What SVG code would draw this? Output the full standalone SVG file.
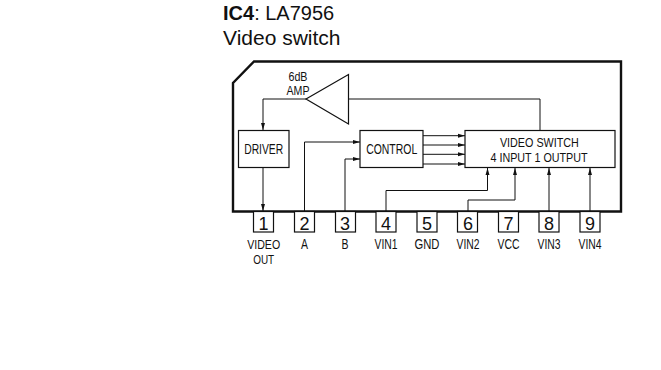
<svg xmlns="http://www.w3.org/2000/svg" width="661" height="370" viewBox="0 0 661 370">
<style>
text{font-family:"Liberation Sans",Arial,sans-serif;fill:#111}
.t{font-size:20px}
.p{font-size:18px;text-anchor:middle}
.l{font-size:14px;text-anchor:middle}
.m{font-size:12px;text-anchor:middle}
.b{fill:#fff;stroke:#111;stroke-width:1.2}
.c{fill:none;stroke:#111;stroke-width:1}
</style>
<defs><marker id="a" markerUnits="userSpaceOnUse" markerWidth="8" markerHeight="6" refX="7" refY="3" orient="auto"><path d="M0,1L7,3L0,5z" fill="#111"/></marker></defs>
<rect width="661" height="370" fill="#fff"/>
<text class="t" x="223" y="20"><tspan font-weight="bold">IC4</tspan>: LA7956<tspan x="223" y="45" font-size="21">Video switch</tspan></text>
<g id="chip"><path d="M254,61.5H621V211.5H233V83Z" fill="none" stroke="#111" stroke-width="2.4"/></g>
<g id="connectors">
<path class="c" d="M306,99H263V130" marker-end="url(#a)"/>
<path class="c" d="M348.5,99H540V130.5"/>
<path class="c" d="M263,167.5V211" marker-end="url(#a)"/>
<path class="c" d="M304.5,211V142H360" marker-end="url(#a)"/>
<path class="c" d="M345,211V159H360" marker-end="url(#a)"/>
<path class="c" d="M423,135.7H465" marker-end="url(#a)"/>
<path class="c" d="M423,145H465" marker-end="url(#a)"/>
<path class="c" d="M423,154.3H465" marker-end="url(#a)"/>
<path class="c" d="M423,164H465" marker-end="url(#a)"/>
<path class="c" d="M386,211V190.5H487.5V168" marker-end="url(#a)"/>
<path class="c" d="M468,211V200H515V168" marker-end="url(#a)"/>
<path class="c" d="M549,211V168" marker-end="url(#a)"/>
<path class="c" d="M590,211V168" marker-end="url(#a)"/>
</g>
<g id="amp"><path class="b" d="M306,99L348.5,74.5V124Z"/><text class="m" x="298" y="80.5" textLength="19" lengthAdjust="spacingAndGlyphs">6dB</text><text class="m" x="298" y="95" textLength="23" lengthAdjust="spacingAndGlyphs">AMP</text></g>
<g id="driver"><rect class="b" x="238.5" y="130.5" width="50.5" height="37"/><text class="l" x="263.7" y="154" textLength="39" lengthAdjust="spacingAndGlyphs">DRIVER</text></g>
<g id="control"><rect class="b" x="360" y="130.5" width="63" height="37"/><text class="l" x="391.7" y="154" textLength="51" lengthAdjust="spacingAndGlyphs">CONTROL</text></g>
<g id="switch"><rect class="b" x="465" y="130.5" width="150" height="37"/><text class="m" x="539.4" y="147.3" textLength="79" lengthAdjust="spacingAndGlyphs">VIDEO SWITCH</text><text class="m" x="539" y="161.7" textLength="97" lengthAdjust="spacingAndGlyphs">4 INPUT 1 OUTPUT</text></g>
<g id="pin1"><rect class="b" x="253.5" y="211.5" width="20" height="20.5"/><text class="p" x="263.5" y="229.5">1</text><text class="m" x="263.7" y="249.3" textLength="33" lengthAdjust="spacingAndGlyphs">VIDEO</text><text class="m" x="263.7" y="263.5" textLength="21" lengthAdjust="spacingAndGlyphs">OUT</text></g>
<g id="pin2"><rect class="b" x="294.5" y="211.5" width="20" height="20.5"/><text class="p" x="304.5" y="229.5">2</text><text class="l" x="304.5" y="249.3" textLength="7" lengthAdjust="spacingAndGlyphs">A</text></g>
<g id="pin3"><rect class="b" x="335.5" y="211.5" width="20" height="20.5"/><text class="p" x="345" y="229.5">3</text><text class="l" x="345" y="249.3" textLength="7" lengthAdjust="spacingAndGlyphs">B</text></g>
<g id="pin4"><rect class="b" x="376" y="211.5" width="20" height="20.5"/><text class="p" x="386" y="229.5">4</text><text class="l" x="386" y="249.3" textLength="23" lengthAdjust="spacingAndGlyphs">VIN1</text></g>
<g id="pin5"><rect class="b" x="417" y="211.5" width="20" height="20.5"/><text class="p" x="427" y="229.5">5</text><text class="l" x="427" y="249.3" textLength="25" lengthAdjust="spacingAndGlyphs">GND</text></g>
<g id="pin6"><rect class="b" x="457.5" y="211.5" width="20" height="20.5"/><text class="p" x="468" y="229.5">6</text><text class="l" x="468" y="249.3" textLength="23" lengthAdjust="spacingAndGlyphs">VIN2</text></g>
<g id="pin7"><rect class="b" x="498.5" y="211.5" width="20" height="20.5"/><text class="p" x="508.5" y="229.5">7</text><text class="l" x="508.5" y="249.3" textLength="22" lengthAdjust="spacingAndGlyphs">VCC</text></g>
<g id="pin8"><rect class="b" x="539" y="211.5" width="20" height="20.5"/><text class="p" x="549" y="229.5">8</text><text class="l" x="549" y="249.3" textLength="23" lengthAdjust="spacingAndGlyphs">VIN3</text></g>
<g id="pin9"><rect class="b" x="580" y="211.5" width="20" height="20.5"/><text class="p" x="590" y="229.5">9</text><text class="l" x="590" y="249.3" textLength="23" lengthAdjust="spacingAndGlyphs">VIN4</text></g>
</svg>
